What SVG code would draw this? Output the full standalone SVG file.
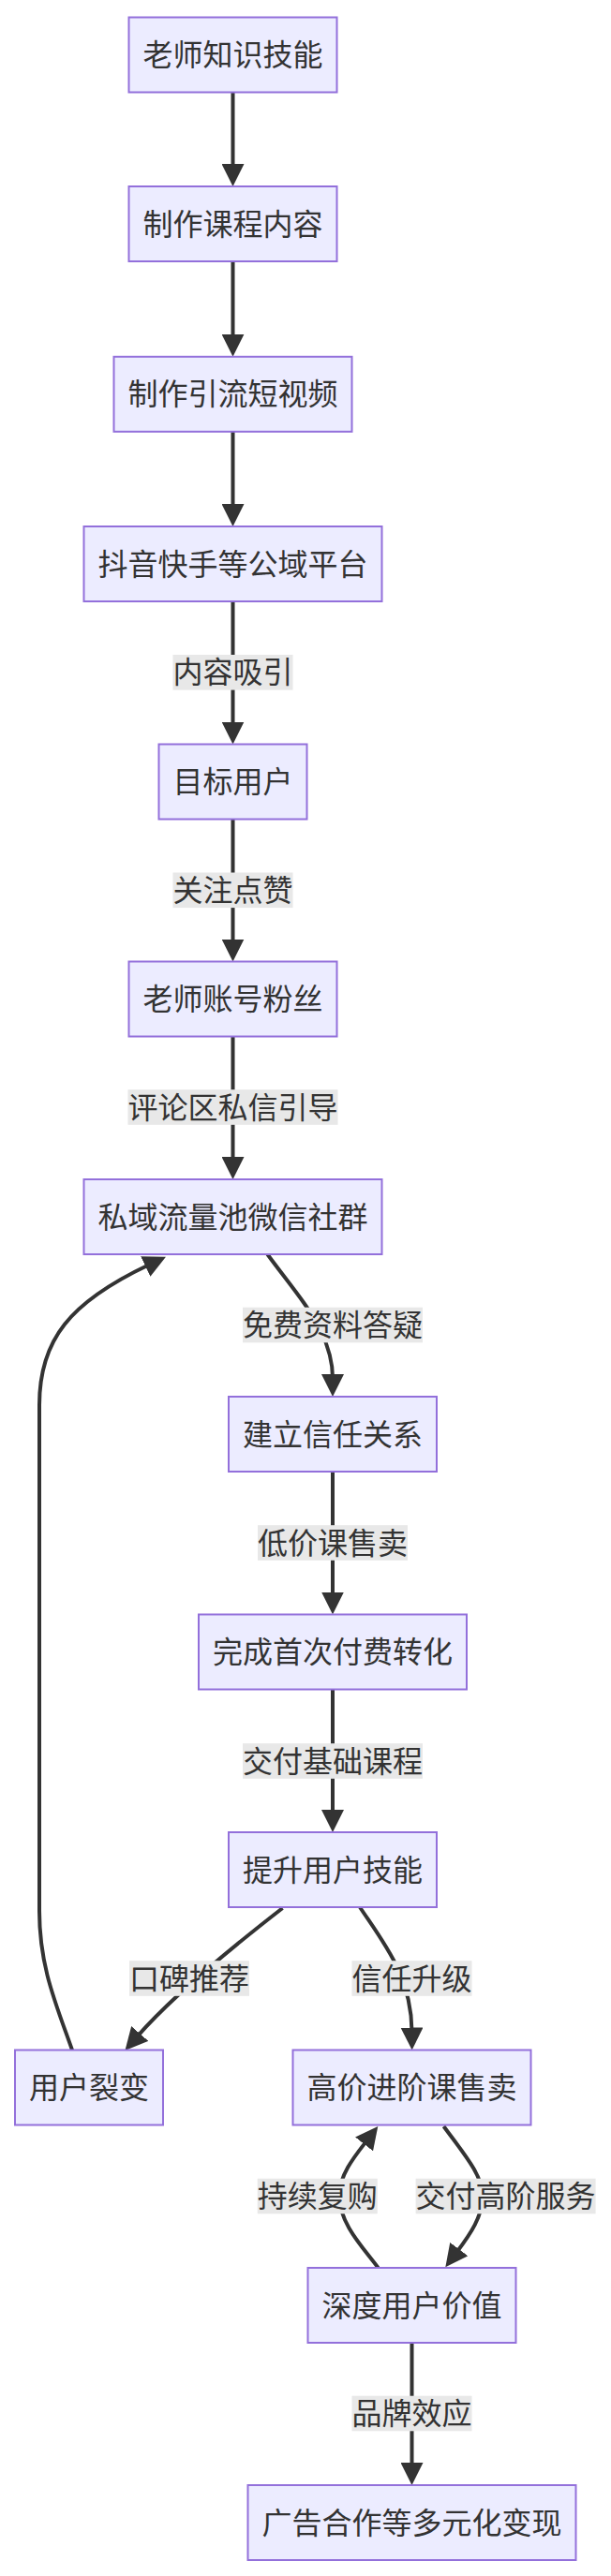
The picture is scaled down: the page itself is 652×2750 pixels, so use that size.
<svg xmlns="http://www.w3.org/2000/svg" width="652" height="2750" viewBox="0 0 652 2750">
<style>
.node rect{fill:#ECECFF;stroke:#9370DB;stroke-width:2}
text{font-family:"Noto Sans CJK SC","Noto Sans",sans-serif;font-size:32px;fill:#333;text-anchor:middle}
.edge{fill:none;stroke:#333;stroke-width:4;marker-end:url(#arrow)}
.lbl rect{fill:#e8e8e8}
</style>
<defs>
<marker id="arrow" viewBox="0 0 24 24" refX="4" refY="12" markerWidth="24" markerHeight="24" markerUnits="userSpaceOnUse" orient="auto"><path d="M0,0 L24,12 L0,24 z" fill="#333"/></marker>
</defs>
<rect width="652" height="2750" fill="#fff"/>
<g id="edges">
<path class="edge" d="M248.5,98.5 L248.5,179"/>
<path class="edge" d="M248.5,279 L248.5,360.8"/>
<path class="edge" d="M248.5,460.8 L248.5,542"/>
<path class="edge" d="M248.5,642 L248.5,774.5"/>
<path class="edge" d="M248.5,874.5 L248.5,1006.5"/>
<path class="edge" d="M248.5,1106.5 L248.5,1239"/>
<path class="edge" d="M285.4,1339 C305,1366 330,1395 342,1420 C351.6,1440 355,1455 355,1471"/>
<path class="edge" d="M355,1571 L355,1703.5"/>
<path class="edge" d="M355,1803.5 L355,1936"/>
<path class="edge" d="M301.5,2037 C250,2077 185,2130 146.6,2173.9"/>
<path class="edge" d="M384,2036 C410,2075 439,2110 439.5,2168.5"/>
<path class="edge" d="M473.5,2270 C494,2298 515,2322 515,2344 C515,2366 502,2385 487.4,2404.3"/>
<path class="edge" d="M403.5,2421 C390,2402 362,2375 362,2344 C362,2322 378.7,2301.6 391,2285.8"/>
<path class="edge" d="M439.5,2501 L439.5,2633"/>
<path class="edge" d="M77,2188.5 C60,2140 42,2100 42,2040 L42,1500 C42,1430 75,1390 158.9,1350.3"/>
</g>
<g id="edge-labels">
<g class="lbl"><rect x="184.5" y="699" width="128" height="37.6"/><text x="248.5" y="729.3">内容吸引</text></g>
<g class="lbl"><rect x="184.5" y="931.5" width="128" height="37.6"/><text x="248.5" y="961.8">关注点赞</text></g>
<g class="lbl"><rect x="136.5" y="1163.2" width="224" height="37.6"/><text x="248.5" y="1193.5">评论区私信引导</text></g>
<g class="lbl"><rect x="259" y="1395.7" width="192" height="37.6"/><text x="355" y="1426">免费资料答疑</text></g>
<g class="lbl"><rect x="275" y="1628.2" width="160" height="37.6"/><text x="355" y="1658.5">低价课售卖</text></g>
<g class="lbl"><rect x="259" y="1861.2" width="192" height="37.6"/><text x="355" y="1891.5">交付基础课程</text></g>
<g class="lbl"><rect x="138" y="2093.2" width="128" height="37.6"/><text x="202" y="2123.5">口碑推荐</text></g>
<g class="lbl"><rect x="375.5" y="2093.2" width="128" height="37.6"/><text x="439.5" y="2123.5">信任升级</text></g>
<g class="lbl"><rect x="274.75" y="2325.7" width="128" height="37.6"/><text x="338.75" y="2356">持续复购</text></g>
<g class="lbl"><rect x="443.6" y="2325.7" width="192" height="37.6"/><text x="539.6" y="2356">交付高阶服务</text></g>
<g class="lbl"><rect x="375.5" y="2557.7" width="128" height="37.6"/><text x="439.5" y="2588">品牌效应</text></g>
</g>
<g id="n1" class="node"><rect x="137.5" y="18.5" width="222" height="80"/><text x="248.5" y="70">老师知识技能</text></g>
<g id="n2" class="node"><rect x="137.5" y="199" width="222" height="80"/><text x="248.5" y="250.5">制作课程内容</text></g>
<g id="n3" class="node"><rect x="121.5" y="380.8" width="254" height="80"/><text x="248.5" y="432.3">制作引流短视频</text></g>
<g id="n4" class="node"><rect x="89.5" y="562" width="318" height="80"/><text x="248.5" y="613.5">抖音快手等公域平台</text></g>
<g id="n5" class="node"><rect x="169.5" y="794.5" width="158" height="80"/><text x="248.5" y="846">目标用户</text></g>
<g id="n6" class="node"><rect x="137.5" y="1026.5" width="222" height="80"/><text x="248.5" y="1078">老师账号粉丝</text></g>
<g id="n7" class="node"><rect x="89.5" y="1259" width="318" height="80"/><text x="248.5" y="1310.5">私域流量池微信社群</text></g>
<g id="n8" class="node"><rect x="244" y="1491" width="222" height="80"/><text x="355" y="1542.5">建立信任关系</text></g>
<g id="n9" class="node"><rect x="212" y="1723.5" width="286" height="80"/><text x="355" y="1775">完成首次付费转化</text></g>
<g id="n10" class="node"><rect x="244" y="1956" width="222" height="80"/><text x="355" y="2007.5">提升用户技能</text></g>
<g id="n11" class="node"><rect x="16" y="2188.5" width="158" height="80"/><text x="95" y="2240">用户裂变</text></g>
<g id="n12" class="node"><rect x="312.5" y="2188.5" width="254" height="80"/><text x="439.5" y="2240">高价进阶课售卖</text></g>
<g id="n13" class="node"><rect x="328.5" y="2421" width="222" height="80"/><text x="439.5" y="2472.5">深度用户价值</text></g>
<g id="n14" class="node"><rect x="264.5" y="2653" width="350" height="80"/><text x="439.5" y="2704.5">广告合作等多元化变现</text></g>
</svg>
